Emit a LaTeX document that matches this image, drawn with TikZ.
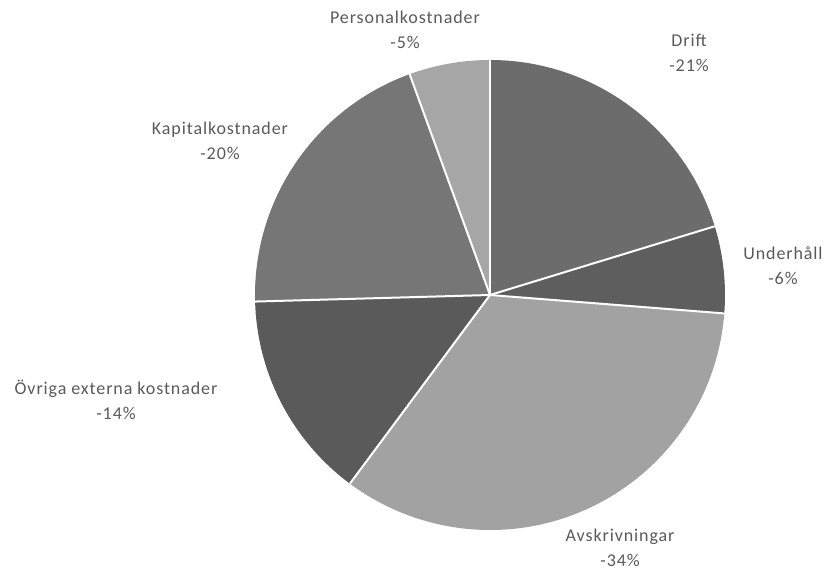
\documentclass[tikz,border=0pt]{standalone}
\usepackage{fontspec}
\setmainfont[LetterSpace=5]{Carlito}
\definecolor{lbl}{HTML}{5A5A5A}
\definecolor{cDrift}{HTML}{6C6C6C}
\definecolor{cUnder}{HTML}{5E5E5E}
\definecolor{cAvsk}{HTML}{A2A2A2}
\definecolor{cOvr}{HTML}{5A5A5A}
\definecolor{cKap}{HTML}{767676}
\definecolor{cPers}{HTML}{A6A6A6}
\begin{document}
\begin{tikzpicture}[x=1pt,y=1pt,
  lab/.style={text=lbl,font=\fontsize{18}{25}\selectfont,align=center,inner sep=0pt},
  sep/.style={white,line width=2pt}]
\useasboundingbox (0,0) rectangle (825,573);
\coordinate (c) at (490,278);
\def\R{235}
\fill[cDrift] (c) -- ++(90:\R) arc[start angle=90,end angle=17,radius=\R] -- cycle;
\fill[cUnder] (c) -- ++(17:\R) arc[start angle=17,end angle=-4.5,radius=\R] -- cycle;
\fill[cAvsk] (c) -- ++(-4.5:\R) arc[start angle=-4.5,end angle=-126.6,radius=\R] -- cycle;
\fill[cOvr] (c) -- ++(-126.6:\R) arc[start angle=-126.6,end angle=-178.4,radius=\R] -- cycle;
\fill[cKap] (c) -- ++(181.6:\R) arc[start angle=181.6,end angle=110,radius=\R] -- cycle;
\fill[cPers] (c) -- ++(110:\R) arc[start angle=110,end angle=90,radius=\R] -- cycle;
\foreach \a in {90,17,-4.5,-126.6,-178.4,110}
  \draw[sep] (c) -- ++(\a:\R);
\node[lab] (pers) at (405,543) {Personalkostnader\\-5\%};
\node[lab] (drift) at (689,520) {Drift\\-21\%};
\node[lab] (under) at (783,307) {Underhåll\\-6\%};
\node[lab] (kap) at (220,432) {Kapitalkostnader\\-20\%};
\node[lab] (ovr) at (116,173) {Övriga externa kostnader\\-14\%};
\node[lab] (avsk) at (620,25) {Avskrivningar\\-34\%};
\end{tikzpicture}
\end{document}
